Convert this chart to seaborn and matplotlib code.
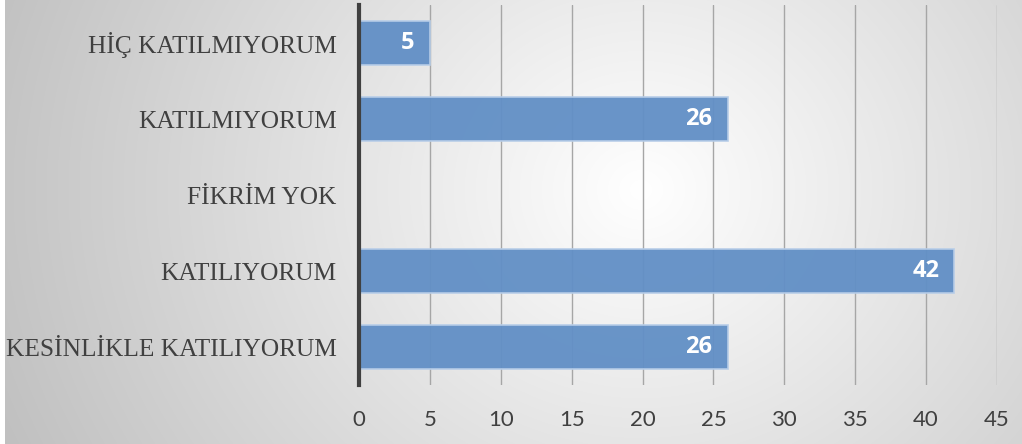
import numpy as np
import pandas as pd
import matplotlib
matplotlib.use("Agg")
import matplotlib.pyplot as plt
import seaborn as sns

categories = ["HİÇ KATILMIYORUM", "KATILMIYORUM", "FİKRİM YOK",
              "KATILIYORUM", "KESİNLİKLE KATILIYORUM"]
counts = [5, 26, 0, 42, 26]
x_ticks = [0, 5, 10, 15, 20, 25, 30, 35, 40, 45]

df = pd.DataFrame({"cevap": categories, "sayi": counts})

sns.set_theme(style="white")
plt.rcParams["font.family"] = ["Lato", "DejaVu Sans"]

W, H, DPI = 1022, 444, 100
fig = plt.figure(figsize=(W / DPI, H / DPI), dpi=DPI)
fig.patch.set_facecolor("white")

# radial grey-to-white backdrop
bg = fig.add_axes([5 / W, 0, 1 - 5 / W, 1], zorder=-10)
yy, xx = np.mgrid[0:H, 5:W]
d = np.sqrt(((xx - 640) / 1.0) ** 2 + ((yy - 190) / 0.9) ** 2)
shade = 255 - 60 * np.clip(d / 660, 0, 1.2)
img = np.clip(shade, 0, 255) / 255.0
bg.imshow(np.dstack([img, img, img]), aspect="auto", interpolation="bilinear")
bg.set_axis_off()

ax = fig.add_axes([359 / W, 1 - 385 / H, (997 - 359) / W, 380 / H])
ax.patch.set_alpha(0)

sns.barplot(data=df, x="sayi", y="cevap", order=categories, orient="h",
            color="#6390c6", saturation=1, width=0.59, ax=ax,
            edgecolor="#b7cde8", linewidth=1.2, alpha=0.96, zorder=3)

ax.set_xlim(0, 45)
ax.set_xticks(x_ticks)
ax.set_xticklabels([str(t) for t in x_ticks])
ax.grid(axis="x", color="#a6a6a6", linewidth=1.0, zorder=1)
ax.grid(axis="y", visible=False)

for s in ["top", "right", "bottom"]:
    ax.spines[s].set_visible(False)
ax.spines["left"].set_color("#404040")
ax.spines["left"].set_linewidth(3.0)
ax.spines["left"].set_zorder(5)

ax.set_xlabel("")
ax.set_ylabel("")
ax.tick_params(axis="x", length=0, pad=18, labelsize=16, labelcolor="#404040")
ax.tick_params(axis="y", length=0, pad=16, labelcolor="#404040")
for lbl in ax.get_yticklabels():
    lbl.set_fontfamily(["Liberation Serif", "DejaVu Serif"])
    lbl.set_fontsize(18.3)

for i, v in enumerate(counts):
    if v > 0:
        ax.annotate(str(v), xy=(v, i), xytext=(-11, 0), textcoords="offset points",
                    ha="right", va="center", color="white", fontsize=17,
                    fontweight="bold", family=["Open Sans", "DejaVu Sans"],
                    zorder=6)

fig.savefig("out.png", dpi=DPI)
